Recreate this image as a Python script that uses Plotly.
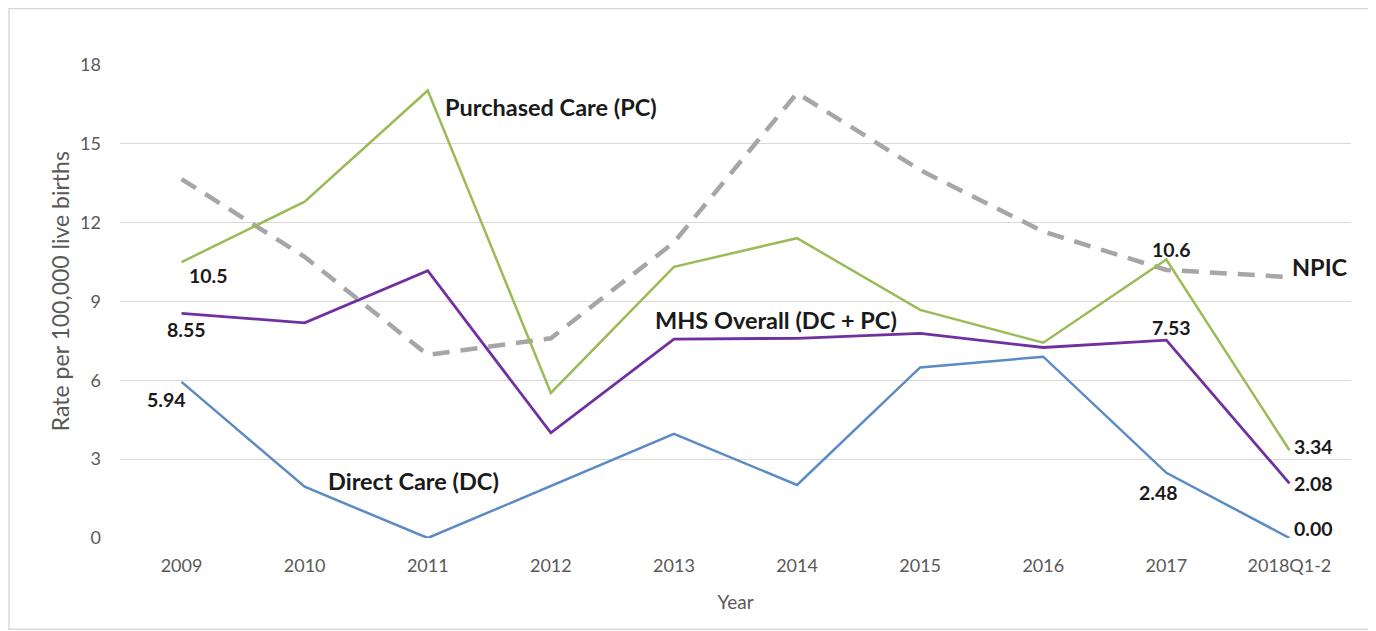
import plotly.graph_objects as go

years = ["2009", "2010", "2011", "2012", "2013", "2014", "2015", "2016", "2017", "2018Q1-2"]
direct_care = [5.94, 1.95, 0.0, 1.98, 3.96, 2.02, 6.49, 6.90, 2.48, 0.00]
purchased_care = [10.5, 12.8, 17.03, 5.52, 10.32, 11.41, 8.68, 7.43, 10.6, 3.34]
mhs_overall = [8.55, 8.19, 10.17, 4.0, 7.57, 7.6, 7.79, 7.25, 7.53, 2.08]
npic = [13.66, 10.7, 6.97, 7.6, 11.25, 16.93, 14.0, 11.66, 10.2, 9.93]

y_ticks = [0, 3, 6, 9, 12, 15, 18]

FONT = "Lato"
TICK_COLOR = "#595959"

fig = go.Figure()
fig.add_trace(go.Scatter(x=years, y=npic, mode="lines", name="NPIC",
                         line=dict(color="#A6A6A6", width=4.5, dash="17px,11px")))
fig.add_trace(go.Scatter(x=years, y=purchased_care, mode="lines", name="Purchased Care (PC)",
                         line=dict(color="#9BBB59", width=2.5)))
fig.add_trace(go.Scatter(x=years, y=mhs_overall, mode="lines", name="MHS Overall (DC + PC)",
                         line=dict(color="#7030A0", width=2.8)))
fig.add_trace(go.Scatter(x=years, y=direct_care, mode="lines", name="Direct Care (DC)",
                         line=dict(color="#5B8BC5", width=2.5)))

annotations = []
lab_font = dict(family=FONT, size=19.5, color="#1a1a1a")
# data labels: (series, index, text, xanchor, yanchor, xshift, yshift)
label_specs = [
    (purchased_care, 0, "10.5", "left", "top", 5, 0),
    (mhs_overall, 0, "8.55", "center", "top", 5, -3),
    (direct_care, 0, "5.94", "center", "top", -15, -4),
    (purchased_care, 8, "10.6", "center", "bottom", 5, -4),
    (mhs_overall, 8, "7.53", "center", "bottom", 5, -1),
    (direct_care, 8, "2.48", "center", "top", -8, -6),
    (purchased_care, 9, "3.34", "left", "middle", 3, 4),
    (mhs_overall, 9, "2.08", "left", "middle", 3, 0),
    (direct_care, 9, "0.00", "left", "bottom", 3, -4),
]
for series, i, txt, xa, ya, xs, ys in label_specs:
    annotations.append(dict(x=i, y=series[i], text="<b>%s</b>" % txt, showarrow=False,
                            xanchor=xa, yanchor=ya, xshift=xs, yshift=ys, font=lab_font))

name_font = dict(family=FONT, size=23.5, color="#1a1a1a")
annotations += [
    dict(x=2, y=16.4, text="<b>Purchased Care (PC)</b>", showarrow=False,
         xanchor="left", yanchor="middle", xshift=15, font=name_font),
    dict(x=4, y=8.3, text="<b>MHS Overall (DC + PC)</b>", showarrow=False,
         xanchor="left", yanchor="middle", xshift=-21, font=name_font),
    dict(x=1, y=2.17, text="<b>Direct Care (DC)</b>", showarrow=False,
         xanchor="left", yanchor="middle", xshift=21, font=name_font),
    dict(x=9, y=10.3, text="<b>NPIC</b>", showarrow=False,
         xanchor="left", yanchor="middle", xshift=1, font=name_font),
]
# y-axis title
annotations.append(dict(x=-0.0487, y=0.522, xref="paper", yref="paper",
                        text="Rate per 100,000 live births", textangle=-90, showarrow=False,
                        xanchor="center", yanchor="middle",
                        font=dict(family=FONT, size=23, color=TICK_COLOR)))

fig.update_layout(
    width=1368, height=623,
    margin=dict(l=112, r=25, t=57, b=93),
    paper_bgcolor="white", plot_bgcolor="white",
    showlegend=False,
    font=dict(family=FONT, color=TICK_COLOR),
    annotations=annotations,
    shapes=[dict(type="rect", xref="paper", yref="paper",
                 x0=-0.0902, x1=1.0162, y0=-0.193, y1=1.1195,
                 line=dict(color="#D9D9D9", width=1.5), fillcolor="rgba(0,0,0,0)", layer="below")],
)
fig.update_xaxes(
    type="category", categoryorder="array", categoryarray=years,
    range=[-0.5, 9.5], showgrid=False, showline=False, zeroline=False,
    tickfont=dict(family=FONT, size=18, color=TICK_COLOR), ticks="", ticklabelstandoff=15,
    title=dict(text="Year", font=dict(family=FONT, size=19, color=TICK_COLOR), standoff=20),
)
fig.update_yaxes(
    range=[0, 18], tickvals=y_ticks, showgrid=True, gridcolor="#D9D9D9", gridwidth=1,
    zeroline=False, showline=False, ticks="",
    tickfont=dict(family=FONT, size=18, color=TICK_COLOR), ticklabelstandoff=18,
)

fig.write_html("out.html")
